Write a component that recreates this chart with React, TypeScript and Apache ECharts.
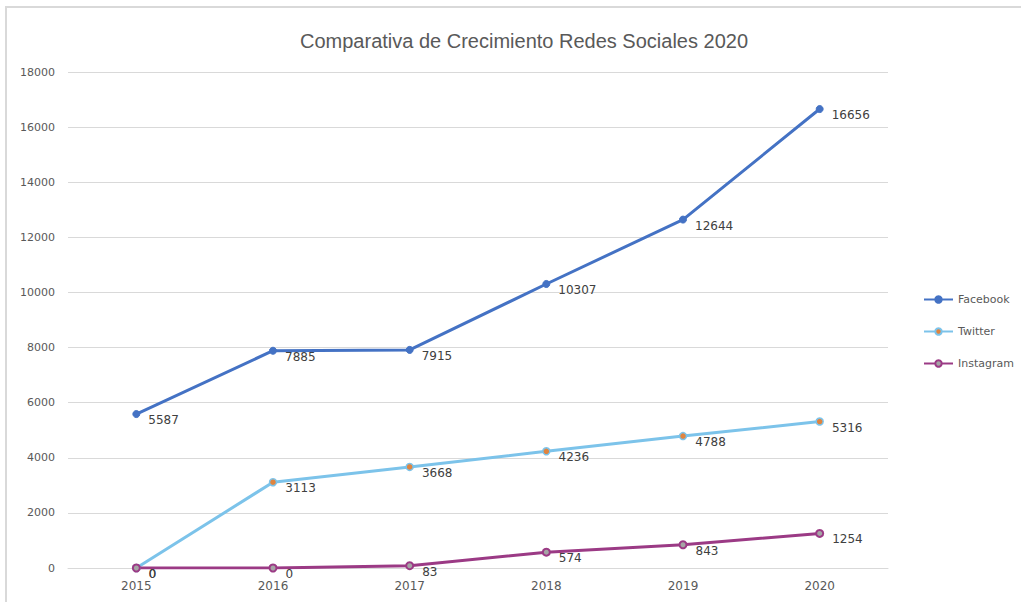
import React, { useEffect, useRef } from "react";
import * as echarts from "echarts";

const years = ["2015", "2016", "2017", "2018", "2019", "2020"];
const facebook = [5587, 7885, 7915, 10307, 12644, 16656];
const twitter = [0, 3113, 3668, 4236, 4788, 5316];
const instagram = [0, 0, 83, 574, 843, 1254];

const labelStyle = {
  show: true,
  position: "right" as const,
  distance: 8,
  offset: [0, 6],
  fontFamily: "DejaVu Sans",
  fontSize: 12,
  color: "#404040",
};

export default function App() {
  const ref = useRef<HTMLDivElement>(null);
  useEffect(() => {
    const chart = echarts.init(ref.current!, undefined, { renderer: "svg" });
    chart.setOption({
      animation: false,
      backgroundColor: "#ffffff",
      title: {
        text: "Comparativa de Crecimiento Redes Sociales 2020",
        left: 519,
        textAlign: "center",
        top: 26,
        textStyle: {
          fontFamily: "Liberation Sans",
          fontSize: 20,
          fontWeight: "normal",
          color: "#595959",
        },
      },
      graphic: [
        {
          type: "rect",
          shape: { x: 6, y: 7, width: 1200, height: 800 },
          style: { fill: "none", stroke: "#d9d9d9", lineWidth: 2 },
          silent: true,
        },
      ],
      legend: {
        orient: "vertical",
        left: 918,
        top: 289,
        itemWidth: 29,
        itemHeight: 8,
        itemGap: 21,
        textStyle: { fontFamily: "DejaVu Sans", fontSize: 11, color: "#595959" },
        data: ["Facebook", "Twitter", "Instagram"],
      },
      grid: { left: 68, right: 133, top: 72, bottom: 34 },
      xAxis: {
        type: "category",
        data: years,
        boundaryGap: true,
        axisLine: { lineStyle: { color: "#d9d9d9", width: 1 } },
        axisTick: { show: false },
        axisLabel: { fontFamily: "DejaVu Sans", fontSize: 12, color: "#595959", margin: 12 },
      },
      yAxis: {
        type: "value",
        min: 0,
        max: 18000,
        interval: 2000,
        axisLine: { show: false },
        axisTick: { show: false },
        splitLine: { lineStyle: { color: "#d9d9d9", width: 1 } },
        axisLabel: {
          fontFamily: "DejaVu Sans",
          fontSize: 11,
          color: "#595959",
          margin: 13,
          formatter: (v: number) => String(v),
        },
      },
      series: [
        {
          name: "Facebook",
          type: "line",
          data: facebook,
          color: "#4472C4",
          lineStyle: { width: 3, color: "#4472C4" },
          symbol: "circle",
          symbolSize: 7,
          itemStyle: { color: "#4472C4", borderColor: "#4472C4", borderWidth: 1 },
          label: labelStyle,
        },
        {
          name: "Twitter",
          type: "line",
          data: twitter,
          color: "#7CC3EA",
          lineStyle: { width: 3, color: "#7CC3EA" },
          symbol: "circle",
          symbolSize: 7,
          itemStyle: { color: "#E0843F", borderColor: "#7CC3EA", borderWidth: 1.5 },
          label: labelStyle,
        },
        {
          name: "Instagram",
          type: "line",
          data: instagram,
          color: "#9B3A85",
          lineStyle: { width: 3, color: "#9B3A85" },
          symbol: "circle",
          symbolSize: 7,
          itemStyle: { color: "#A5A5A5", borderColor: "#9B3A85", borderWidth: 2 },
          label: labelStyle,
        },
      ],
    });
    return () => chart.dispose();
  }, []);
  return (
    <div
      ref={ref}
      style={{ position: "absolute", left: 0, top: 0, width: 1021, height: 602 }}
    />
  );
}
